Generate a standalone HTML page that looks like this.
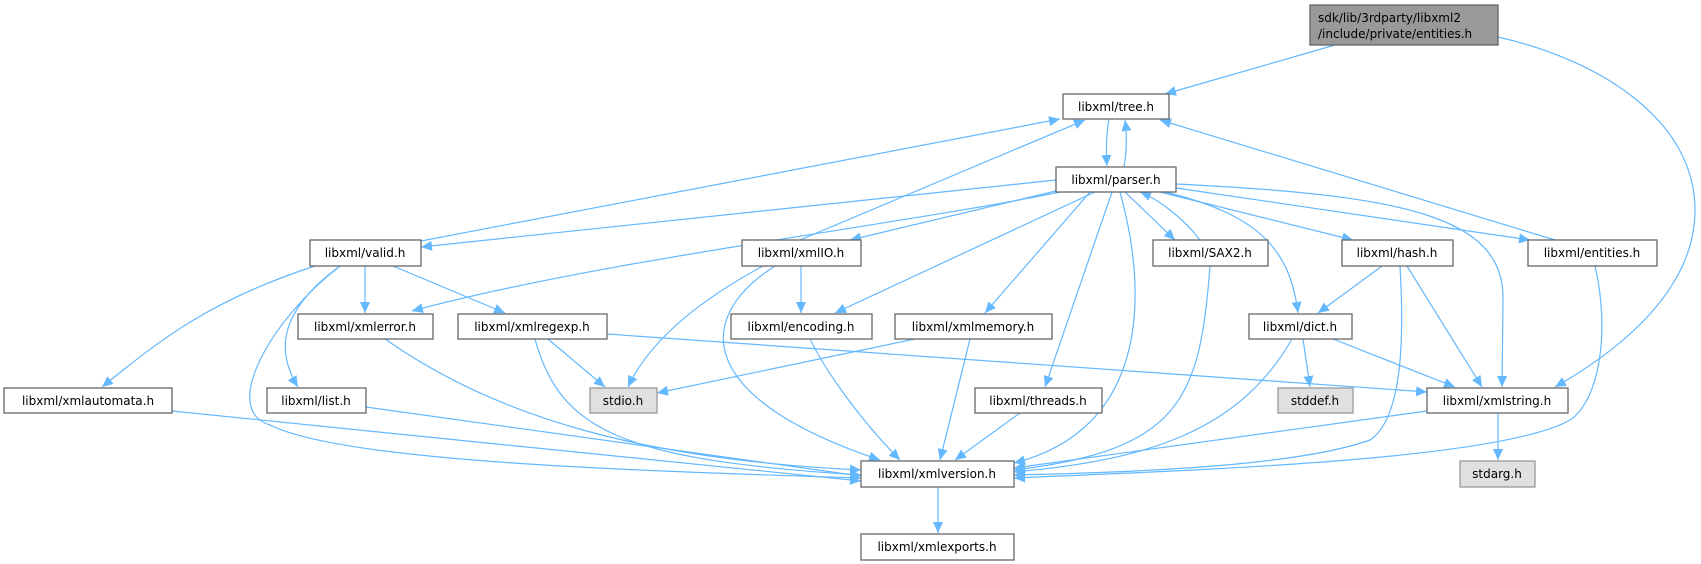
<!DOCTYPE html>
<html><head><meta charset="utf-8"><style>
html,body{margin:0;padding:0;background:#fff;}
svg{display:block;}
text{font-family:"DejaVu Sans","Liberation Sans",sans-serif;font-size:12px;fill:#000;}
.b{fill:#fff;stroke:#666;stroke-width:1.3;}
.g{fill:#e0e0e0;stroke:#999;stroke-width:1.3;}
.e{fill:none;stroke:#63b8ff;stroke-width:1.2;marker-end:url(#a);}
</style></head><body>
<svg width="1701" height="564" viewBox="0 0 1701 564" xmlns="http://www.w3.org/2000/svg">
<defs><marker id="a" markerUnits="userSpaceOnUse" markerWidth="12" markerHeight="10" refX="11" refY="5" orient="auto"><path d="M0,0 L11,5 L0,10 z" fill="#63b8ff"/></marker></defs>
<g>
<path class="e" d="M1335,45 L1165,94"/>
<path class="e" d="M1498,37 C1600,60 1695,120 1695,210 C1695,290 1620,350 1555,387"/>
<path class="e" d="M1109,119 C1106,135 1106,150 1107,166"/>
<path class="e" d="M1124,167 C1127,150 1127,135 1125,120"/>
<path class="e" d="M421,241 L1060,119"/>
<path class="e" d="M800,240 L1085,120"/>
<path class="e" d="M1555,240 L1160,120"/>
<path class="e" d="M1056,180 L421,247"/>
<path class="e" d="M1060,190 L850,240"/>
<path class="e" d="M1060,192 C900,225 600,260 412,311"/>
<path class="e" d="M1095,192 L835,313"/>
<path class="e" d="M1090,192 L985,313"/>
<path class="e" d="M1112,192 L1045,387"/>
<path class="e" d="M1120,192 C1150,300 1145,430 1014,463"/>
<path class="e" d="M1125,192 L1175,240"/>
<path class="e" d="M1200,240 C1185,220 1160,200 1140,192"/>
<path class="e" d="M1165,192 C1260,215 1290,250 1298,313"/>
<path class="e" d="M1160,192 L1353,240"/>
<path class="e" d="M1176,188 L1530,240"/>
<path class="e" d="M1176,184 C1400,195 1505,215 1503,300 L1502,387"/>
<path class="e" d="M315,266 C210,300 160,340 102,387"/>
<path class="e" d="M340,266 C280,310 275,350 298,387"/>
<path class="e" d="M340,266 C270,320 220,410 270,425 C340,460 600,470 861,478"/>
<path class="e" d="M365,266 L365,313"/>
<path class="e" d="M393,266 L505,313"/>
<path class="e" d="M763,266 C700,300 650,340 628,387"/>
<path class="e" d="M775,266 C690,320 700,400 880,460"/>
<path class="e" d="M801,266 L801,313"/>
<path class="e" d="M385,339 C500,420 650,460 861,470"/>
<path class="e" d="M548,339 L605,387"/>
<path class="e" d="M535,339 C560,430 620,460 861,475"/>
<path class="e" d="M607,334 L1427,392"/>
<path class="e" d="M810,339 C830,380 870,430 900,460"/>
<path class="e" d="M915,339 L657,393"/>
<path class="e" d="M970,339 L940,460"/>
<path class="e" d="M1020,413 L955,460"/>
<path class="e" d="M1210,266 C1200,400 1180,450 1014,470"/>
<path class="e" d="M1382,266 L1318,313"/>
<path class="e" d="M1407,266 L1482,387"/>
<path class="e" d="M1400,266 C1405,350 1400,420 1370,440 C1300,465 1150,472 1014,475"/>
<path class="e" d="M1303,339 L1310,387"/>
<path class="e" d="M1333,339 L1455,387"/>
<path class="e" d="M1292,339 C1240,430 1150,460 1014,472"/>
<path class="e" d="M1595,266 C1610,330 1600,400 1570,420 C1500,460 1200,470 1014,478"/>
<path class="e" d="M1427,411 L1014,468"/>
<path class="e" d="M1498,413 L1498,460"/>
<path class="e" d="M172,411 L861,481"/>
<path class="e" d="M366,407 L861,476"/>
<path class="e" d="M938,487 L938,533"/>
</g>
<rect x="1310" y="5" width="188" height="40" fill="#999" stroke="#666" stroke-width="1.3"/>
<text x="1318" y="22">sdk/lib/3rdparty/libxml2</text>
<text x="1318" y="38">/include/private/entities.h</text>
<g text-anchor="middle">
<rect class="b" x="1063" y="94" width="106" height="25"/><text x="1116" y="111">libxml/tree.h</text>
<rect class="b" x="1056" y="167" width="120" height="25"/><text x="1116" y="184">libxml/parser.h</text>
<rect class="b" x="310" y="240" width="111" height="26"/><text x="365" y="257">libxml/valid.h</text>
<rect class="b" x="742" y="240" width="119" height="26"/><text x="801" y="257">libxml/xmlIO.h</text>
<rect class="b" x="1153" y="240" width="115" height="26"/><text x="1210" y="257">libxml/SAX2.h</text>
<rect class="b" x="1342" y="240" width="111" height="26"/><text x="1397" y="257">libxml/hash.h</text>
<rect class="b" x="1528" y="240" width="129" height="26"/><text x="1592" y="257">libxml/entities.h</text>
<rect class="b" x="298" y="314" width="135" height="25"/><text x="365" y="331">libxml/xmlerror.h</text>
<rect class="b" x="458" y="314" width="149" height="25"/><text x="532" y="331">libxml/xmlregexp.h</text>
<rect class="b" x="731" y="314" width="141" height="25"/><text x="801" y="331">libxml/encoding.h</text>
<rect class="b" x="895" y="314" width="157" height="25"/><text x="973" y="331">libxml/xmlmemory.h</text>
<rect class="b" x="1249" y="314" width="103" height="25"/><text x="1300" y="331">libxml/dict.h</text>
<rect class="b" x="4" y="388" width="168" height="25"/><text x="88" y="405">libxml/xmlautomata.h</text>
<rect class="b" x="267" y="388" width="99" height="25"/><text x="316" y="405">libxml/list.h</text>
<rect class="g" x="590" y="388" width="67" height="25"/><text x="623" y="405">stdio.h</text>
<rect class="b" x="975" y="388" width="127" height="25"/><text x="1038" y="405">libxml/threads.h</text>
<rect class="g" x="1278" y="388" width="75" height="25"/><text x="1315" y="405">stddef.h</text>
<rect class="b" x="1427" y="388" width="141" height="25"/><text x="1497" y="405">libxml/xmlstring.h</text>
<rect class="b" x="861" y="461" width="153" height="26"/><text x="937" y="478">libxml/xmlversion.h</text>
<rect class="g" x="1460" y="461" width="75" height="26"/><text x="1497" y="478">stdarg.h</text>
<rect class="b" x="861" y="534" width="153" height="26"/><text x="937" y="551">libxml/xmlexports.h</text>
</g>
</svg>
</body></html>
